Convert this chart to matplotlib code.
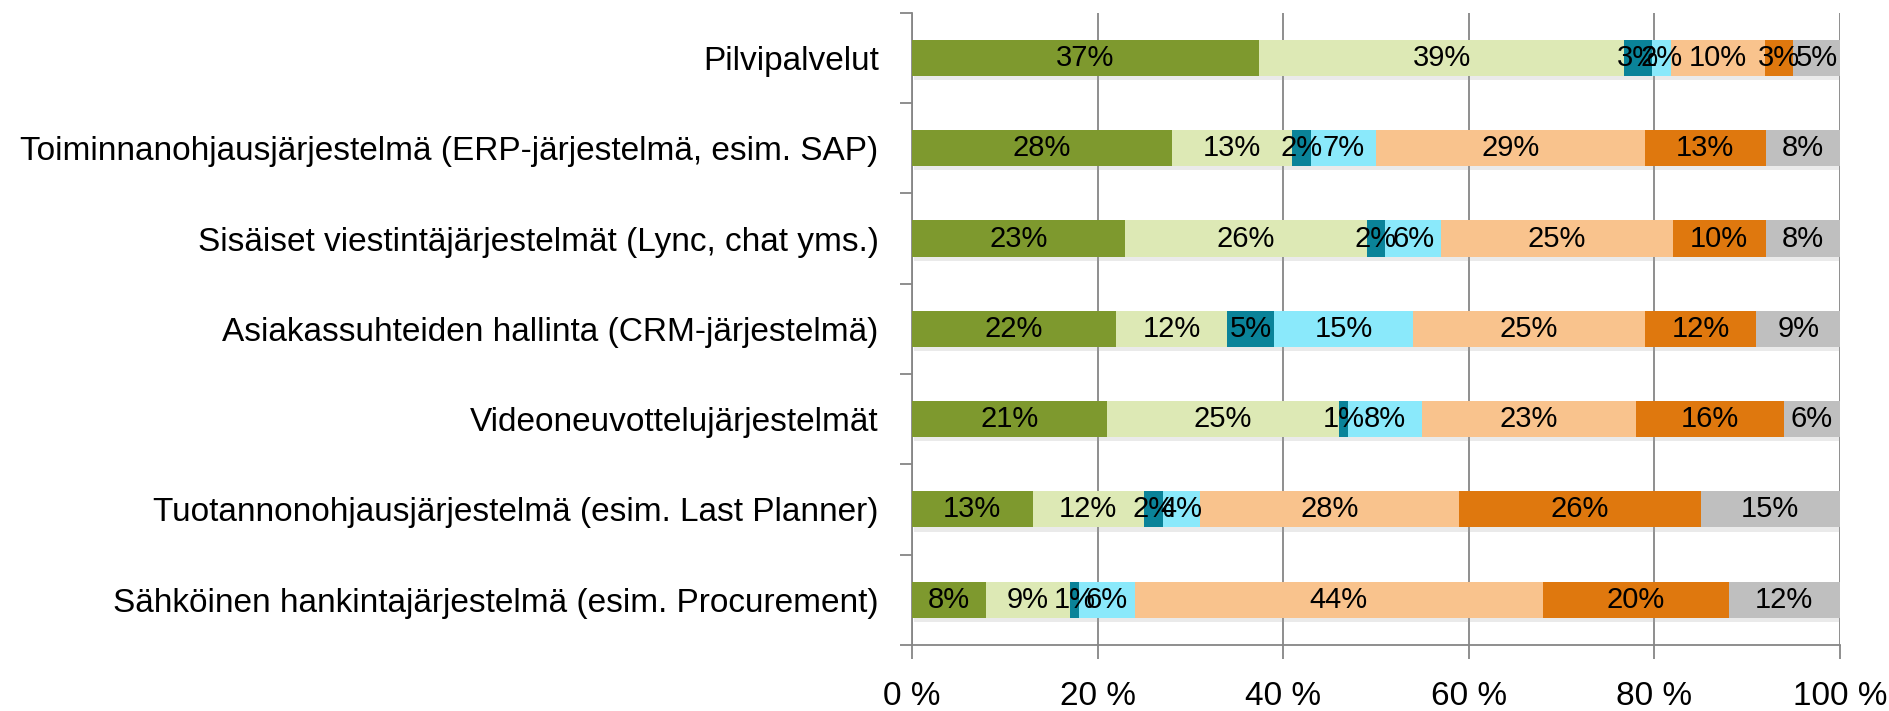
import numpy as np
import matplotlib
matplotlib.use('Agg')
import matplotlib.pyplot as plt
from matplotlib import patheffects as pe
from matplotlib.ticker import FixedLocator

categories = [
    'Pilvipalvelut',
    'Toiminnanohjausjärjestelmä (ERP-järjestelmä, esim. SAP)',
    'Sisäiset viestintäjärjestelmät (Lync, chat yms.)',
    'Asiakassuhteiden hallinta (CRM-järjestelmä)',
    'Videoneuvottelujärjestelmät',
    'Tuotannonohjausjärjestelmä (esim. Last Planner)',
    'Sähköinen hankintajärjestelmä (esim. Procurement)',
]
# one list per segment, values in percent (top to bottom order)
seg1 = [37, 28, 23, 22, 21, 13, 8]
seg2 = [39, 13, 26, 12, 25, 12, 9]
seg3 = [3, 2, 2, 5, 1, 2, 1]
seg4 = [2, 7, 6, 15, 8, 4, 6]
seg5 = [10, 29, 25, 25, 23, 28, 44]
seg6 = [3, 13, 10, 12, 16, 26, 20]
seg7 = [5, 8, 8, 9, 6, 15, 12]
colors = ['#7E992E', '#DDE9B5', '#0A8399', '#8AE9FB', '#F9C38D', '#DF780E', '#BFBFBF']
xticks = [0, 20, 40, 60, 80, 100]


def main():
    plt.rcParams['font.family'] = ['Liberation Sans', 'DejaVu Sans']
    fig = plt.figure(figsize=(18.89, 7.11), dpi=100)
    ax = fig.add_axes([0.4828, 0.093, 0.4912, 0.889])

    segs = np.array([seg1, seg2, seg3, seg4, seg5, seg6, seg7], dtype=float)
    shares = segs / segs.sum(axis=0) * 100
    n = len(categories)
    y = np.arange(n)[::-1]

    left = np.zeros(n)
    for k in range(len(segs)):
        bars = ax.barh(y, shares[k], left=left, height=0.4, color=colors[k], zorder=3)
        for b in bars:
            b.set_path_effects([pe.SimplePatchShadow(offset=(1.5, -3), shadow_rgbFace='#a0a0a0', alpha=0.22), pe.Normal()])
        for i in range(n):
            ax.text(left[i] + shares[k][i] / 2, y[i], '{:d}%'.format(int(segs[k][i])),
                    ha='center', va='center', fontsize=21, color='black', zorder=4)
        left += shares[k]

    ax.set_xlim(0, 100)
    ax.set_ylim(-0.5, n - 0.5)
    ax.set_xticks(xticks)
    ax.set_xticklabels(['{} %'.format(v) for v in xticks], fontsize=24)
    ax.set_yticks(y)
    ax.set_yticklabels(categories, fontsize=24)
    ax.yaxis.set_minor_locator(FixedLocator(np.arange(-0.5, n, 1.0)))
    ax.tick_params(axis='y', which='major', length=0, pad=24)
    ax.tick_params(axis='y', which='minor', length=9, color='#868686', width=1.3)
    ax.tick_params(axis='x', length=10, color='#868686', width=1.3, pad=16)
    ax.grid(axis='x', color='#868686', linewidth=1.3, zorder=0)
    for s in ['top', 'right']:
        ax.spines[s].set_visible(False)
    for s in ['left', 'bottom']:
        ax.spines[s].set_color('#868686')
        ax.spines[s].set_linewidth(1.3)

    fig.savefig('out.png', dpi=100)


if __name__ == '__main__':
    main()
